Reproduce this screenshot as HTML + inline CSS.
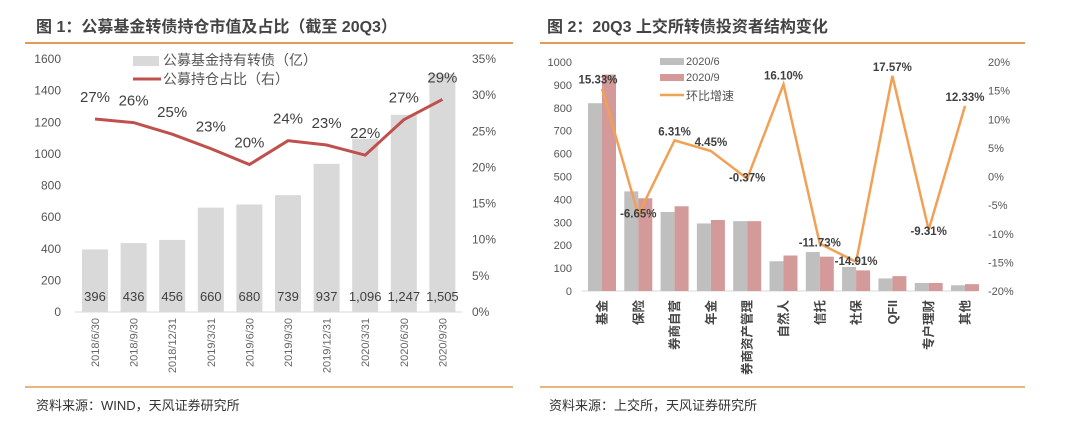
<!DOCTYPE html>
<html><head><meta charset="utf-8"><style>
body{margin:0;background:#fff;width:1080px;height:422px;overflow:hidden;font-family:"Liberation Sans","Noto Sans CJK SC",sans-serif}
svg text{font-family:"Liberation Sans","Noto Sans CJK SC",sans-serif}
</style></head><body>
<svg width="1080" height="422">
<text x="36" y="32" font-size="16" font-weight="bold" fill="#444">图 1：公募基金转债持仓市值及占比（截至 20Q3）</text>
<line x1="25" y1="43" x2="513" y2="43" stroke="#e39a55" stroke-width="2"/>
<text x="547" y="32" font-size="16" font-weight="bold" fill="#444">图 2：20Q3 上交所转债投资者结构变化</text>
<line x1="540" y1="43" x2="1025" y2="43" stroke="#e39a55" stroke-width="2"/>
<line x1="25" y1="387" x2="513" y2="387" stroke="#e39a55" stroke-width="1.5"/>
<line x1="540" y1="387" x2="1025" y2="387" stroke="#e39a55" stroke-width="1.5"/>
<text x="36" y="410" font-size="13" fill="#333">资料来源：WIND，天风证券研究所</text>
<text x="549" y="410" font-size="13" fill="#333">资料来源：上交所，天风证券研究所</text>
<g id="c1"></g><g id="c2"></g>
</svg>
<script>
const c1Cats=["2018/6/30","2018/9/30","2018/12/31","2019/3/31","2019/6/30","2019/9/30","2019/12/31","2020/3/31","2020/6/30","2020/9/30"];
const c1Bars=[396,436,456,660,680,739,937,1096,1247,1505];
const c1BarLabels=["396","436","456","660","680","739","937","1,096","1,247","1,505"];
const c1Pct=[26.7,26.2,24.6,22.6,20.4,23.7,23.1,21.7,26.6,29.4];
const c1PctLabels=["27%","26%","25%","23%","20%","24%","23%","22%","27%","29%"];
const c1LeftTicks=[0,200,400,600,800,1000,1200,1400,1600];
const c1RightTicks=[0,5,10,15,20,25,30,35];

const c2Cats=["基金","保险","券商自营","年金","券商资产管理","自然人","信托","社保","QFII","专户理财","其他"];
const c2Jun=[820,435,345,295,305,130,170,105,55,35,25];
const c2Sep=[945,405,370,310,305,155,150,90,65,35,30];
const c2Pct=[15.33,-6.65,6.31,4.45,-0.37,16.10,-11.73,-14.91,17.57,-9.31,12.33];
const c2LeftTicks=[0,100,200,300,400,500,600,700,800,900,1000];
const c2RightTicks=[-20,-15,-10,-5,0,5,10,15,20];

const NS="http://www.w3.org/2000/svg";
function mk(p,t,a,txt){const e=document.createElementNS(NS,t);for(const k in a)e.setAttribute(k,a[k]);if(txt!==undefined)e.textContent=txt;p.appendChild(e);return e;}

// Chart 1
const g1=document.getElementById('c1');
const y1=v=>312-v/1600*253, y1r=v=>312-v/35*253, x1=i=>95+i*38.6;
c1LeftTicks.forEach(v=>{const t=mk(g1,'text',{x:61,y:y1(v)+4,'font-size':12,fill:'#555','text-anchor':'end'},v);
});
c1RightTicks.forEach(v=>{const t=mk(g1,'text',{x:472,y:y1r(v)+4,'font-size':12,fill:'#555'},v+'%');
});
mk(g1,'line',{x1:75,x2:462,y1:312,y2:312,stroke:'#d9d9d9'});
c1Bars.forEach((v,i)=>{const r=mk(g1,'rect',{x:x1(i)-13,y:y1(v),width:26,height:312-y1(v),fill:'#d9d9d9'});

const t=mk(g1,'text',{x:x1(i),y:301,'font-size':13,fill:'#404040','text-anchor':'middle'},c1BarLabels[i]);

const c=mk(g1,'text',{transform:`translate(${x1(i)+4},318) rotate(-90)`,'font-size':11,fill:'#666','text-anchor':'end'},c1Cats[i]);
});
const l1=mk(g1,'polyline',{points:c1Pct.map((v,i)=>x1(i)+','+y1r(v)).join(' '),fill:'none',stroke:'#c0504d','stroke-width':3});

c1Pct.forEach((v,i)=>{const t=mk(g1,'text',{x:x1(i),y:y1r(v)-17,'font-size':15,fill:'#404040','text-anchor':'middle'},c1PctLabels[i]);
});
mk(g1,'rect',{x:133,y:56,width:26,height:10,fill:'#d9d9d9'});
const lg1=mk(g1,'text',{x:163,y:65,'font-size':14,fill:'#555'},'公募基金持有转债（亿）');

mk(g1,'line',{x1:133,x2:161,y1:79,y2:79,stroke:'#c0504d','stroke-width':3});
const lg2=mk(g1,'text',{x:163,y:84,'font-size':14,fill:'#555'},'公募持仓占比（右）');


// Chart 2
const g2=document.getElementById('c2');
const y2=v=>291-v/1000*229, y2r=v=>291-(v+20)/40*229, x2=i=>602+i*36.3;
c2LeftTicks.forEach(v=>{const t=mk(g2,'text',{x:572,y:y2(v)+4,'font-size':11,fill:'#555','text-anchor':'end'},v);
});
c2RightTicks.forEach(v=>{const t=mk(g2,'text',{x:988,y:y2r(v)+4,'font-size':11,fill:'#555'},v+'%');
});
mk(g2,'line',{x1:582,x2:978,y1:291,y2:291,stroke:'#d9d9d9'});
c2Cats.forEach((c,i)=>{
const a=mk(g2,'rect',{x:x2(i)-14,y:y2(c2Jun[i]),width:14,height:291-y2(c2Jun[i]),fill:'#bfbfbf'});

const b=mk(g2,'rect',{x:x2(i),y:y2(c2Sep[i]),width:14,height:291-y2(c2Sep[i]),fill:'#d39a99'});

const t=mk(g2,'text',{transform:`translate(${x2(i)+4.5},300) rotate(-90)`,'font-size':12.5,'font-weight':'bold',fill:'#444','text-anchor':'end'},c);
});
const l2=mk(g2,'polyline',{points:c2Pct.map((v,i)=>x2(i)+','+y2r(v)).join(' '),fill:'none',stroke:'#f2a055','stroke-width':2.5});

c2Pct.forEach((v,i)=>{const t=mk(g2,'text',{x:x2(i)-(i==0?4:0),y:y2r(v)+(v<0?(i==9?5:3):-5),'font-size':11.5,'font-weight':'bold',fill:'#404040','text-anchor':'middle'},v.toFixed(2)+'%');
});
mk(g2,'rect',{x:660,y:58,width:24,height:7,fill:'#bfbfbf'});
const m1=mk(g2,'text',{x:686,y:65,'font-size':11,fill:'#555'},'2020/6');
mk(g2,'rect',{x:660,y:74,width:24,height:7,fill:'#d39a99'});
const m2=mk(g2,'text',{x:686,y:81,'font-size':11,fill:'#555'},'2020/9');
mk(g2,'line',{x1:660,x2:684,y1:95,y2:95,stroke:'#f2a055','stroke-width':2.5});
const m3=mk(g2,'text',{x:686,y:100,'font-size':12,fill:'#555'},'环比增速');
</script>
</body></html>
